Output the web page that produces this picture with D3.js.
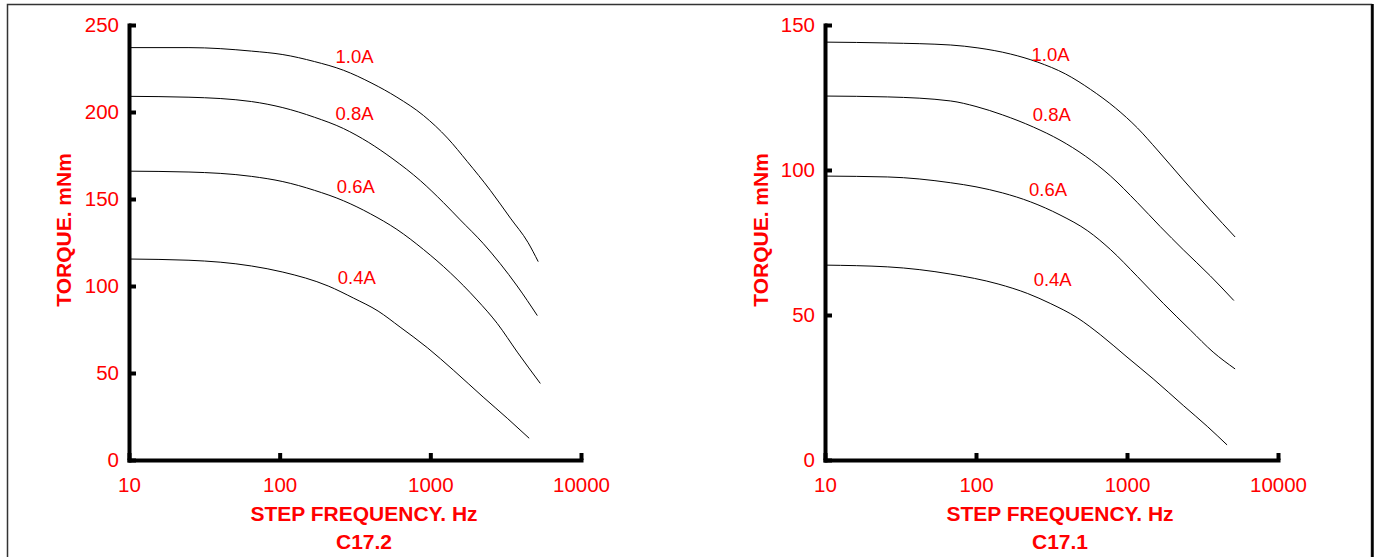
<!DOCTYPE html>
<html>
<head>
<meta charset="utf-8">
<script src="https://cdn.jsdelivr.net/npm/d3@7"></script>
<style>
  body { margin: 0; background: #fff; }
  svg { display: block; }
  .tick text { font-family: "Liberation Sans", Arial, sans-serif; fill: #ff0000; }
  .title { font-family: "Liberation Sans", Arial, sans-serif; font-weight: bold; fill: #ff0000; }
  .curveLabel { font-family: "Liberation Sans", Arial, sans-serif; fill: #ff0000; }
</style>
</head>
<body>
<script>
// x ticks (step frequency, Hz) shared by both charts
var freqTicks = [10, 100, 1000, 10000];
var seriesLabels = ["1.0A", "0.8A", "0.6A", "0.4A"];

// C17.2 (left chart), [frequency Hz, torque mNm]
var c172Ticks = [0, 50, 100, 150, 200, 250];
var c172_10 = [[10,237],[25,237],[65,235],[105,233],[170,229],[265,224],[410,216.5],[600,208.5],[900,198],[1300,185],[1760,171.5],[2500,155],[3400,139],[4450,125],[5200,114]];
var c172_08 = [[10,209],[25,208.5],[65,206],[105,202.5],[170,197],[265,190.5],[390,182.5],[565,173],[860,160.5],[1220,148],[1580,138],[2240,124.5],[2900,113],[3770,100],[5130,83]];
var c172_06 = [[10,166],[25,165.5],[65,163],[105,160],[170,155],[265,149],[400,141.5],[600,132.5],[900,121],[1360,107.5],[2040,92],[2780,78.5],[3780,62],[5370,44]];
var c172_04 = [[10,115.5],[25,114.8],[65,111.5],[105,108],[210,100],[310,93],[450,85.6],[630,76.4],[960,64.4],[1420,51.7],[2240,36.2],[3240,24],[4530,12.5]];
var c172LabelAt = [[314,232],[314,199],[320,157],[325,105]];

// C17.1 (right chart)
var c171Ticks = [0, 50, 100, 150];
var c171_10 = [[10,144.1],[26,143.8],[68,143.1],[103,142.1],[169,140],[256,137.2],[392,133.1],[573,127.8],[838,121.4],[1172,114.5],[1589,106.9],[2360,96.6],[3560,86.2],[5200,76.9]];
var c171_08 = [[10,125.5],[26,125.2],[68,123.8],[100,121.9],[150,119],[240,114.8],[360,110.3],[530,104.8],[775,98],[1170,88.8],[1660,80.5],[2360,72.5],[3560,63.5],[5100,55]];
var c171_06 = [[10,97.9],[26,97.6],[68,95.6],[100,94.2],[150,92.1],[230,89],[360,84.5],[550,79],[780,72.5],[1170,63.3],[1740,54],[2630,44.8],[3720,37.2],[5200,31.4]];
var c171_04 = [[10,67.2],[26,66.6],[68,64.1],[140,60.7],[220,57.4],[310,54],[470,49],[670,43.1],[1000,35.5],[1490,28],[2360,18.8],[3400,11.6],[4600,5.2]];
var c171LabelAt = [[312,139.7],[318,119.3],[300,93.4],[322,62.1]];

var width = 1375, height = 557;

var svg = d3.select("body")
            .append("svg")
            .attr("width", width)
            .attr("height", height);

// outer frame
svg.append("rect")
   .attr("x", 7.5).attr("y", 4.5)
   .attr("width", 1364).attr("height", 560)
   .style("fill", "none")
   .style("stroke", "#333")
   .style("stroke-width", 1.5);
svg.append("line")
   .attr("x1", 1372.5).attr("x2", 1372.5)
   .attr("y1", 4).attr("y2", height)
   .style("stroke", "#000")
   .style("stroke-width", 2.5);

drawChart({
  left: 129, right: 581, top: 25, bottom: 460, yMax: 250,
  yTicks: c172Ticks, series: [c172_10, c172_08, c172_06, c172_04],
  labelAt: c172LabelAt, titleX: 364, yTitleX: 64, name: "C17.2"
});
drawChart({
  left: 825, right: 1278, top: 25, bottom: 460, yMax: 150,
  yTicks: c171Ticks, series: [c171_10, c171_08, c171_06, c171_04],
  labelAt: c171LabelAt, titleX: 1060, yTitleX: 761, name: "C17.1"
});

function drawChart(p) {
  var x = d3.scaleLog()
            .domain([10, 10000])
            .range([p.left, p.right]);
  var y = d3.scaleLinear()
            .domain([0, p.yMax])
            .range([p.bottom, p.top]);

  var g = svg.append("g");

  // curves
  var line = d3.line()
               .curve(d3.curveMonotoneX)
               .x(function(d) { return x(d[0]); })
               .y(function(d) { return y(d[1]); });

  g.selectAll("path.curve")
   .data(p.series)
   .enter().append("path")
   .attr("class", "curve")
   .attr("d", line)
   .style("fill", "none")
   .style("stroke", "#000")
   .style("stroke-width", 1);

  // curve labels
  g.selectAll("text.curveLabel")
   .data(p.labelAt)
   .enter().append("text")
   .attr("class", "curveLabel")
   .attr("x", function(d) { return x(d[0]); })
   .attr("y", function(d) { return y(d[1]); })
   .attr("dy", "0.35em")
   .attr("text-anchor", "middle")
   .style("font-size", "18.5px")
   .text(function(d, i) { return seriesLabels[i]; });

  // axes, ticks pointing inside
  var yAxis = d3.axisLeft(y)
                .tickValues(p.yTicks)
                .tickFormat(d3.format("d"))
                .tickSizeInner(-7)
                .tickSizeOuter(0)
                .tickPadding(10);
  var xAxis = d3.axisBottom(x)
                .tickValues(freqTicks)
                .tickFormat(d3.format("d"))
                .tickSizeInner(-7)
                .tickSizeOuter(0)
                .tickPadding(17);

  var ya = g.append("g")
            .attr("class", "y axis")
            .attr("transform", "translate(" + p.left + ",0)")
            .call(yAxis);
  var xa = g.append("g")
            .attr("class", "x axis")
            .attr("transform", "translate(0," + p.bottom + ")")
            .call(xAxis);

  [ya, xa].forEach(function(a) {
    a.select(".domain").style("stroke", "#000").style("stroke-width", 4).style("stroke-linecap", "square");
    a.selectAll(".tick line").style("stroke", "#000").style("stroke-width", 4);
    a.selectAll(".tick text").style("font-size", "20.5px");
  });

  // titles
  g.append("text")
   .attr("class", "title")
   .attr("transform", "translate(" + p.yTitleX + ",230) rotate(-90)")
   .attr("text-anchor", "middle")
   .attr("dy", "0.35em")
   .style("font-size", "21px")
   .text("TORQUE. mNm");

  g.append("text")
   .attr("class", "title")
   .attr("x", p.titleX)
   .attr("y", 521)
   .attr("text-anchor", "middle")
   .style("font-size", "21px")
   .text("STEP FREQUENCY. Hz");

  g.append("text")
   .attr("class", "title")
   .attr("x", p.titleX)
   .attr("y", 549)
   .attr("text-anchor", "middle")
   .style("font-size", "21px")
   .text(p.name);
}
</script>
</body>
</html>
